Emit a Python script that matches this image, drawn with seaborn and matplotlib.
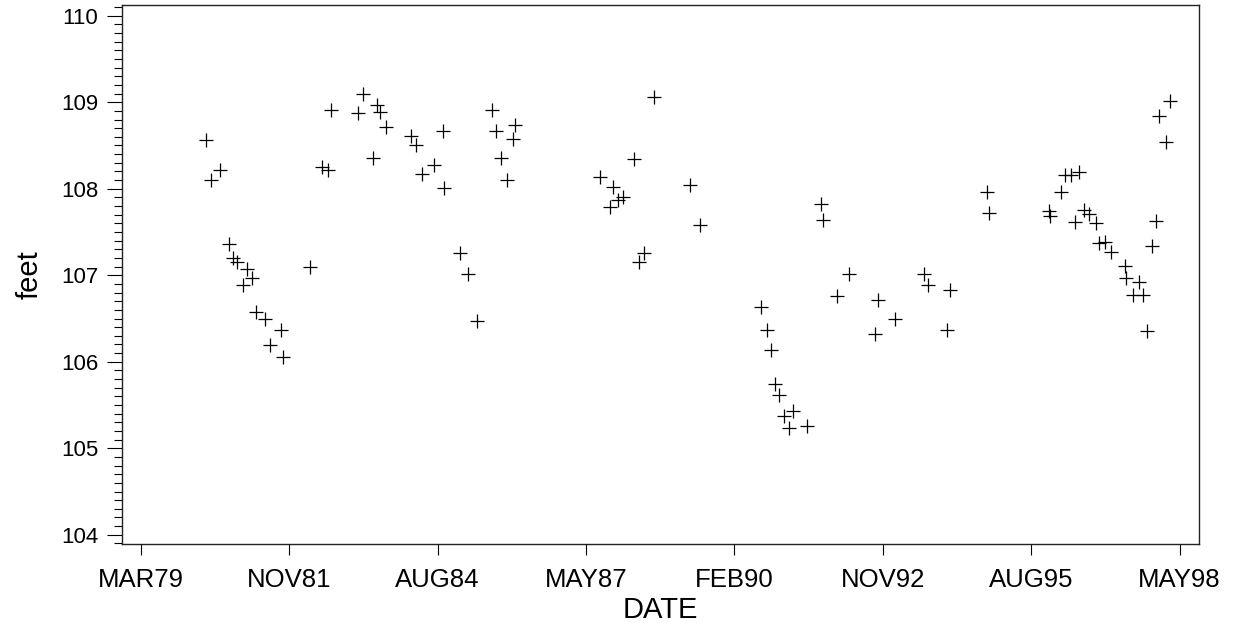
import pandas as pd
import matplotlib
matplotlib.use('Agg')
import matplotlib.pyplot as plt
import matplotlib.dates as mdates
from matplotlib.ticker import MultipleLocator, FixedLocator
import seaborn as sns

# ── data ──────────────────────────────────────────────────────────
dates = [
    '1980-05-14', '1980-06-15', '1980-08-17', '1980-10-16', '1980-11-14',
    '1980-12-11', '1981-01-21', '1981-02-13', '1981-03-18', '1981-04-16',
    '1981-06-16', '1981-07-20', '1981-09-30', '1981-10-12', '1982-04-16',
    '1982-07-05', '1982-08-17', '1982-09-06', '1983-03-05', '1983-04-10',
    '1983-06-12', '1983-07-13', '1983-07-31', '1983-09-08', '1984-02-25',
    '1984-03-30', '1984-05-06', '1984-07-26', '1984-09-24', '1984-10-06',
    '1985-01-20', '1985-03-12', '1985-05-13', '1985-08-22', '1985-09-20',
    '1985-10-22', '1985-12-01', '1986-01-15', '1986-01-28', '1987-08-22',
    '1987-10-25', '1987-11-20', '1987-12-20', '1988-01-20', '1988-04-03',
    '1988-05-13', '1988-06-16', '1988-08-20', '1989-04-20', '1989-06-22',
    '1990-08-13', '1990-09-20', '1990-10-19', '1990-11-15', '1990-12-12',
    '1991-01-15', '1991-02-13', '1991-03-17', '1991-06-13', '1991-09-22',
    '1991-09-30', '1992-01-06', '1992-03-25', '1992-09-19', '1992-10-07',
    '1993-02-01', '1993-08-10', '1993-09-08', '1994-01-15', '1994-02-05',
    '1994-10-12', '1994-10-28', '1995-12-02', '1995-12-10', '1996-02-25',
    '1996-03-23', '1996-04-29', '1996-05-30', '1996-06-21', '1996-07-25',
    '1996-09-01', '1996-10-18', '1996-11-03', '1996-12-18', '1997-01-25',
    '1997-04-30', '1997-05-08', '1997-06-23', '1997-08-04', '1997-08-29',
    '1997-09-24', '1997-10-29', '1997-11-22', '1997-12-17', '1998-01-31',
    '1998-02-24',
]
feet = [
    108.56, 108.10, 108.22, 107.36, 107.20,
    107.15, 106.89, 107.07, 106.97, 106.57,
    106.49, 106.19, 106.37, 106.05, 107.10,
    108.25, 108.22, 108.91, 108.87, 109.10,
    108.36, 108.97, 108.89, 108.71, 108.61,
    108.51, 108.17, 108.28, 108.67, 108.01,
    107.26, 107.01, 106.47, 108.91, 108.67,
    108.35, 108.10, 108.57, 108.74, 108.14,
    107.79, 108.02, 107.87, 107.90, 108.34,
    107.15, 107.26, 109.06, 108.04, 107.58,
    106.63, 106.37, 106.14, 105.74, 105.61,
    105.37, 105.24, 105.43, 105.26, 107.82,
    107.64, 106.76, 107.01, 106.32, 106.71,
    106.49, 107.01, 106.89, 106.37, 106.83,
    107.96, 107.72, 107.74, 107.69, 107.96,
    108.16, 108.16, 107.62, 108.19, 107.75,
    107.71, 107.60, 107.37, 107.39, 107.27,
    107.11, 106.97, 106.77, 106.92, 106.77,
    106.36, 107.34, 107.63, 108.84, 108.54,
    109.01,
]
# x ticks every 1000 days from the SAS epoch (day 7000 .. 14000)
tick_days = [7000, 8000, 9000, 10000, 11000, 12000, 13000, 14000]
y_ticks = [104, 105, 106, 107, 108, 109, 110]

df = pd.DataFrame({'DATE': pd.to_datetime(dates), 'feet': feet})
epoch = pd.Timestamp('1960-01-01')
tick_dates = [epoch + pd.Timedelta(days=d) for d in tick_days]

sns.set_theme(style='white')
plt.rcParams['font.family'] = ['Liberation Sans', 'DejaVu Sans']
plt.rcParams['text.color'] = 'black'
plt.rcParams['axes.labelcolor'] = 'black'
plt.rcParams['xtick.color'] = 'black'
plt.rcParams['ytick.color'] = 'black'

fig = plt.figure(figsize=(12.35, 6.27), dpi=100)
ax = fig.add_axes([0.0985, 0.1319, 0.8723, 0.8596])

sns.scatterplot(data=df, x='DATE', y='feet', marker='+', color='black',
                s=90, linewidth=0.9, ax=ax, legend=False)

ax.set_xlim(epoch + pd.Timedelta(days=6870), epoch + pd.Timedelta(days=14131))
ax.set_ylim(103.89, 110.12)

ax.xaxis.set_major_locator(FixedLocator(mdates.date2num(tick_dates)))
ax.set_xticklabels([d.strftime('%b%y').upper() for d in tick_dates], fontsize=18.5)
ax.set_yticks(y_ticks)
ax.set_yticklabels([str(v) for v in y_ticks], fontsize=16)
ax.yaxis.set_minor_locator(MultipleLocator(0.1))

ax.tick_params(axis='x', which='major', direction='out', length=8, width=0.8,
               color='black', labelcolor='black', pad=9, bottom=True)
ax.tick_params(axis='y', which='major', direction='out', length=11, width=0.8,
               color='black', labelcolor='black', pad=6, left=True)
ax.tick_params(axis='y', which='minor', direction='out', length=6, width=0.8,
               color='black', left=True)

for side in ax.spines.values():
    side.set_visible(True)
    side.set_color('#222222')
    side.set_linewidth(1.0)

ax.set_xlabel('DATE', fontsize=21, labelpad=3, color='black')
ax.set_ylabel('feet', fontsize=21, labelpad=12, color='black')
ax.grid(False)

fig.savefig('out.png', dpi=100)
